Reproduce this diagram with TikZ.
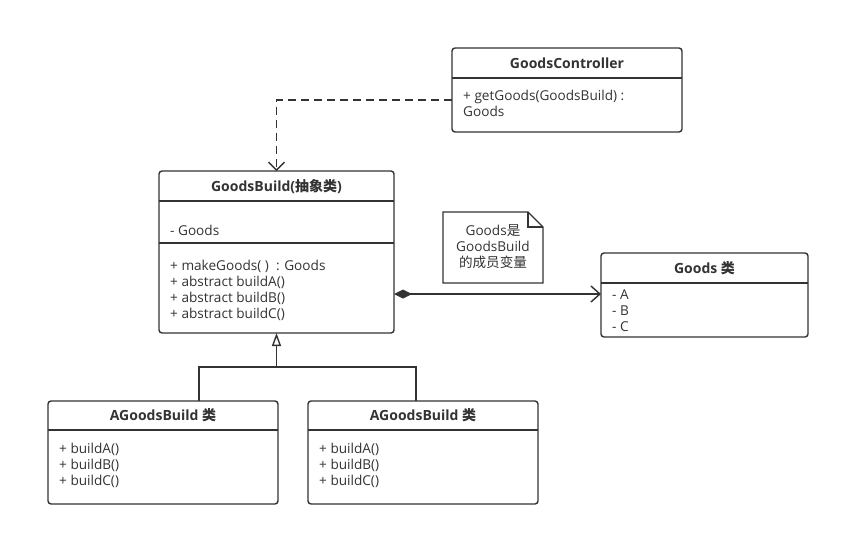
\documentclass[tikz,border=0pt]{standalone}
\usepackage{fontspec}
\setmainfont{Open Sans}
\newfontfamily\cjk{Noto Sans CJK SC}
\usetikzlibrary{arrows.meta,calc}
\definecolor{linec}{HTML}{333333}
\definecolor{txtc}{HTML}{333333}
\tikzset{
  cls/.style={draw=linec, line width=1.4pt, rounded corners=3pt, anchor=north west, inner sep=0pt, outer sep=0pt},
  divider/.style={draw=linec, line width=1.4pt},
  txt/.style={text=txtc, font=\fontsize{13.6}{16}\selectfont, inner sep=0pt, anchor=base west},
  ttl/.style={text=txtc, font=\fontsize{14}{16}\selectfont\bfseries, inner sep=0pt, anchor=base},
  conn/.style={draw=linec, line width=1.4pt},
}
\begin{document}
\begin{tikzpicture}[x=1pt,y=1pt]
\useasboundingbox[fill=white] (0,0) rectangle (841,-536);

% GoodsController
\node[cls, minimum width=230pt, minimum height=84pt] (gc) at (452,-48) {};
\draw[divider] (452,-78) -- (682,-78);
\node[ttl] (gct) at (567,-68) {GoodsController};
\node[txt] (gc1) at (463,-100) {+ getGoods(GoodsBuild) :};
\node[txt] (gc2) at (463,-116) {Goods};

% GoodsBuild
\node[cls, minimum width=235pt, minimum height=162pt] (gb) at (159,-171) {};
\draw[divider] (159,-201) -- (394,-201);
\draw[divider] (159,-243) -- (394,-243);
\node[ttl] (gbt) at (276.5,-191) {GoodsBuild({\cjk 抽象类})};
\node[txt] (gb0) at (170,-235) {- Goods};
\node[txt] (gb1) at (170,-270) {+ makeGoods( )~ : Goods};
\node[txt] (gb2) at (170,-286) {+ abstract buildA()};
\node[txt] (gb3) at (170,-302) {+ abstract buildB()};
\node[txt] (gb4) at (170,-318) {+ abstract buildC()};

% Note
\draw[divider, line width=1.3pt, fill=white] (443,-212) -- (528,-212) -- (543,-227) -- (543,-283) -- (443,-283) -- cycle;
\draw[divider, line width=1.3pt] (528,-212) -- (528,-227) -- (543,-227);
\node[text=txtc, font=\fontsize{13.6}{16}\selectfont, inner sep=0pt, align=center] (note) at (493,-247) {Goods{\cjk 是}\\GoodsBuild\\{\cjk 的成员变量}};

% Goods class
\node[cls, minimum width=207pt, minimum height=84pt] (gd) at (601,-253) {};
\draw[divider] (601,-283) -- (808,-283);
\node[ttl] (gdt) at (704.5,-273) {Goods {\cjk 类}};
\node[txt] (gd1) at (612,-299) {- A};
\node[txt] (gd2) at (612,-315) {- B};
\node[txt] (gd3) at (612,-331) {- C};

% AGoodsBuild 1
\node[cls, minimum width=230pt, minimum height=103pt] (ab1) at (48,-401) {};
\draw[divider] (48,-430) -- (278,-430);
\node[ttl] (ab1t) at (163,-420) {AGoodsBuild {\cjk 类}};
\node[txt] (ab11) at (59,-453) {+ buildA()};
\node[txt] (ab12) at (59,-469) {+ buildB()};
\node[txt] (ab13) at (59,-485) {+ buildC()};

% AGoodsBuild 2
\node[cls, minimum width=230pt, minimum height=103pt] (ab2) at (308,-401) {};
\draw[divider] (308,-430) -- (538,-430);
\node[ttl] (ab2t) at (423,-420) {AGoodsBuild {\cjk 类}};
\node[txt] (ab21) at (319,-453) {+ buildA()};
\node[txt] (ab22) at (319,-469) {+ buildB()};
\node[txt] (ab23) at (319,-485) {+ buildC()};

% dependency (dashed)
\coordinate (dstart) at ($(gc.north west)+(0,-52)$);
\draw[conn, dash pattern=on 8pt off 5pt, -{Straight Barb[length=8pt,width=16pt,line width=1.4pt]}]
  (dstart) -| (gb.north);

% composition
\coordinate (cstart) at ($(gb.north east)+(0,-123)$);
\draw[conn, {Diamond[length=18pt,width=9pt]}-{Straight Barb[length=9pt,width=16pt,line width=1.4pt]}]
  (cstart) -- (cstart -| gd.west);

% inheritance
\coordinate (junc) at (276.5,-367);
\coordinate (l1) at ($(ab1.north west)+(151,0)$);
\coordinate (l2) at ($(ab2.north west)+(108,0)$);
\draw[conn] (l1) -- (l1 |- junc) -- (l2 |- junc) -- (l2);
\draw[conn, -{Triangle[open,length=13pt,width=9pt,line width=1.4pt]}] (junc) -- (gb.south);
\end{tikzpicture}
\end{document}
